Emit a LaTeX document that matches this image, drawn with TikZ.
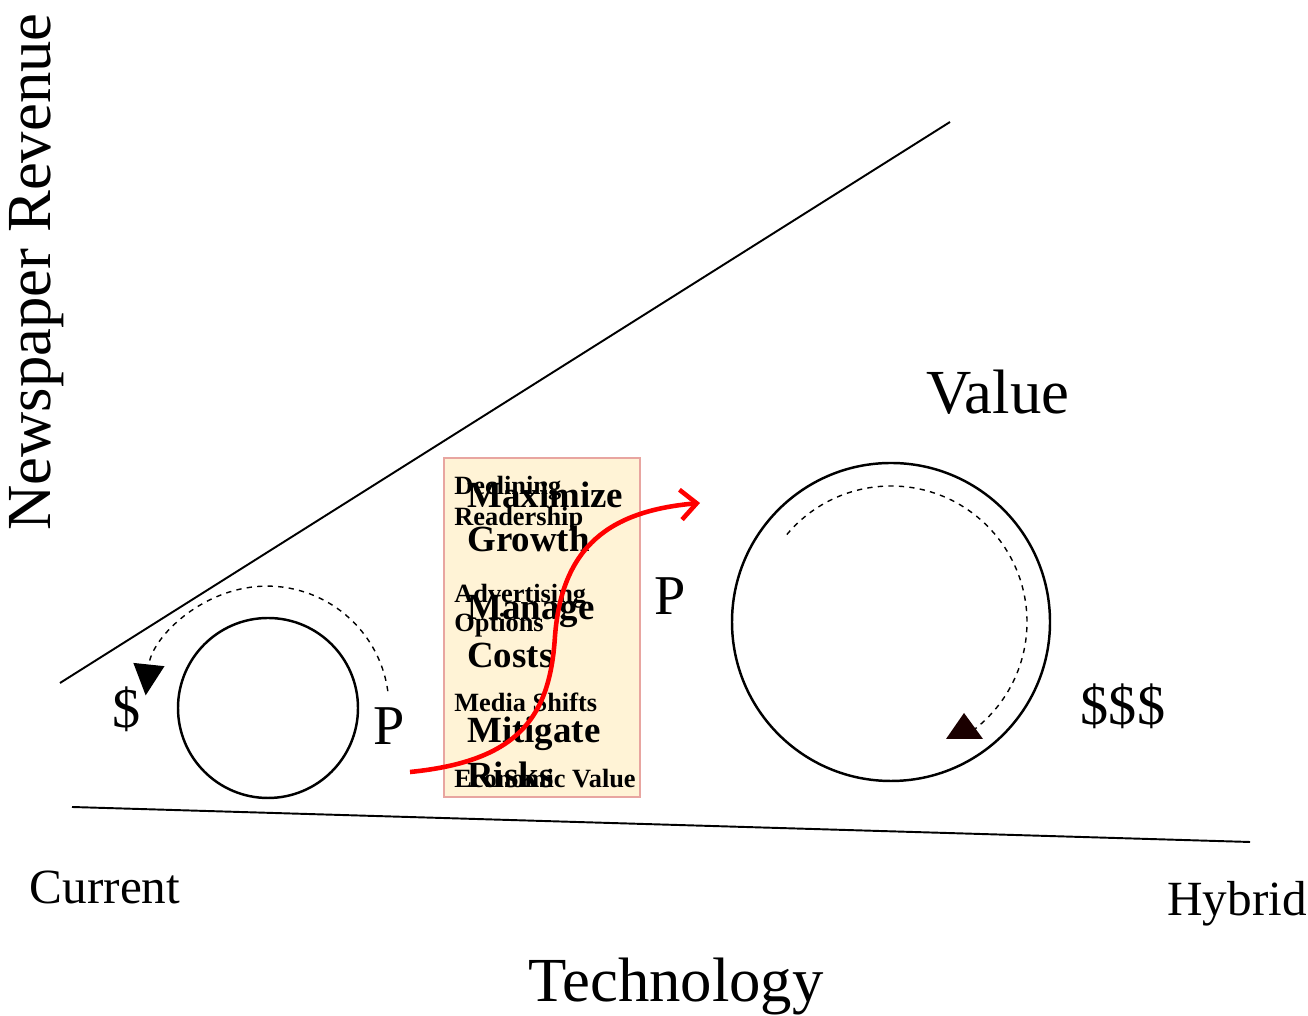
\documentclass[tikz,border=0pt]{standalone}
\usepackage{fontspec}
\setmainfont{Liberation Serif}
\usepackage{xcolor}
\usepackage{tikz}
\usetikzlibrary{arrows.meta}
\definecolor{notefill}{RGB}{255,243,214}
\definecolor{noteline}{RGB}{232,165,160}
\definecolor{tipdark}{RGB}{26,0,0}
\newcommand{\bigtext}{\fontsize{35.7}{40}\selectfont}
\newcommand{\midtext}{\fontsize{32}{36}\selectfont}
\newcommand{\axistext}{\fontsize{28}{32}\selectfont}
\newcommand{\goaltext}{\fontsize{21}{24}\selectfont\bfseries}
\newcommand{\issuetext}{\fontsize{15}{17}\selectfont\bfseries}

\begin{document}
\begin{tikzpicture}[x=0.02cm,y=0.02cm,
	every node/.style={inner sep=0pt},
	goal/.style={anchor=base west,font=\goaltext},
	issue/.style={anchor=base west,font=\issuetext},
	cycle/.style={line width=1.4pt},
	flow/.style={dashed,line width=0.8pt}]
			\useasboundingbox (0,0) rectangle (1308,1016);
			% axes
			\draw[line width=1.1pt] (60,333) -- (950,894);
			\draw[line width=1.1pt] (72,209) -- (1250,174);
			\node[rotate=90,font=\bigtext] (revenue) at (37,744) {Newspaper Revenue};
			\node[font=\bigtext] (tech) at (676,29) {Technology};
			\node[font=\axistext] (current) at (105,129) {Current};
			\node[font=\axistext] (hybrid) at (1237,112) {Hybrid};
			% small cycle
			\coordinate (small) at (268,308);
			\draw[cycle] (small) circle (90);
			\draw[flow,-{Triangle[length=0.62cm,width=0.62cm]}] ([shift={(8:121)}]small) arc (8:174:122);
			\node[font=\midtext] (dollar) at (127,307) {\$};
			\node[font=\midtext] (pone) at (389,290) {P};
			% large cycle
			\coordinate (large) at (891,394);
			\draw[cycle] (large) circle (159);
			\draw[flow] ([shift={(140:136)}]large) arc (140:-52:136);
			\fill[tipdark] (946,277) -- (983,277) -- (964,303) -- cycle;
			\node[font=\midtext] (dollars) at (1123,310) {\$\$\$};
			\node[font=\bigtext] (value) at (998,624) {Value};
			\node[font=\midtext] (ptwo) at (670,420) {P};
			% strategy box
			\draw[fill=notefill,draw=noteline,line width=0.6pt] (444,219) rectangle (640,558);
			\node[issue] (declining) at (454,521) {Declining};
			\node[issue] (readership) at (454,490) {Readership};
			\node[goal] (maximize) at (467,508) {Maximize};
			\node[goal] (growth) at (467,464) {Growth};
			\node[issue] (advertising) at (454,413) {Advertising};
			\node[issue] (options) at (454,384) {Options};
			\node[goal] (manage) at (467,396) {Manage};
			\node[goal] (costs) at (467,348) {Costs};
			\node[issue] (media) at (454,304) {Media Shifts};
			\node[goal] (mitigate) at (467,273) {Mitigate};
			\node[issue] (economic) at (454,228) {Economic Value};
			\node[goal] (risks) at (467,228) {Risks};
			% move to hybrid
			\coordinate (leave) at (410,244);
			\coordinate (arrive) at (700,513);
			\draw[red,line width=2.6pt,-{Straight Barb[length=0.32cm,width=0.6cm]}] (leave) .. controls (520,255) and (550,300) .. (555,380) .. controls (562,470) and (610,505) .. (arrive);
		\end{tikzpicture}
\end{document}
